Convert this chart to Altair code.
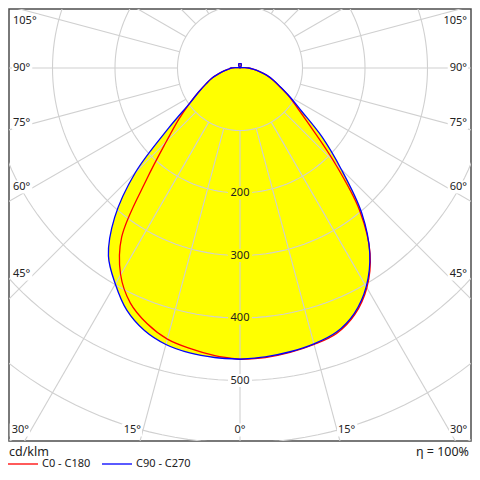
import math
import altair as alt
import pandas as pd

# ---------------- data (cd/klm) ----------------
GAMMA = [0, 5, 10, 15, 20, 25, 30, 35, 40, 45, 50, 55, 60, 65, 70, 75, 80, 85, 90]
C180 = [466, 462, 456, 449, 435, 415, 382, 330, 232, 167, 128, 98, 76, 60, 48, 35, 25, 18, 14]
C0 = [466, 465, 462, 458, 452, 435, 406, 363, 298, 214, 150, 113, 90, 70, 56, 44, 31, 21, 14]
C270 = [466, 465, 463, 458, 447, 428, 399, 367, 312, 237, 148, 98, 76, 60, 48, 35, 25, 18, 14]
C90 = [466, 464, 461, 457, 450, 433, 404, 362, 303, 229, 171, 120, 92, 71, 57, 44, 31, 21, 14]
GAMMA_UP = [95, 100, 105, 110, 115, 120, 125, 130, 135, 140, 145, 150, 155, 160, 165, 170, 175, 180]
UP = [8, 4, 2, 1, 1, 0.5, 0.5, 0.5, 0.5, 1, 2, 3, 5, 6, 7, 7, 7, 7]
SERIES = ["C0 - C180", "C90 - C270"]
RINGS = [100, 200, 300, 400, 500, 600, 700]
RING_LABELS = [200, 300, 400, 500]
ANGLE_LABELS = [0, 15, 30, 45, 60, 75, 90, 105]
ETA = "η = 100%"
UNIT = "cd/klm"

# ---------------- geometry of the frame ----------------
PX = 0.625                 # pixels per cd/klm
W, H = 462, 432            # plot area in px
HALF_W = 231 / PX
TOP = 59 / PX
BOT = -373 / PX
XS = alt.Scale(domain=[-HALF_W, HALF_W], nice=False, zero=False)
YS = alt.Scale(domain=[BOT, TOP], nice=False, zero=False)
GRID = "#d0d0d0"
FONT = "Noto Sans"


def polar(v, g):
    r = math.radians(g)
    return v * math.sin(r), -v * math.cos(r)


# curves
rows = []
for name, left, right in [(SERIES[0], C180, C0), (SERIES[1], C270, C90)]:
    seq = 0
    for g, v in zip(GAMMA + GAMMA_UP, left + UP):
        x, y = polar(v, g)
        rows.append({"series": name, "x": -x, "y": y, "seq": seq})
        seq += 1
    for g, v in list(zip(GAMMA + GAMMA_UP, right + UP))[::-1]:
        x, y = polar(v, g)
        rows.append({"series": name, "x": x, "y": y, "seq": seq})
        seq += 1
curves = pd.DataFrame(rows)

# rings
ring_rows = []
for r in RINGS:
    for i, a in enumerate(range(0, 361, 2)):
        x, y = polar(r, a)
        ring_rows.append({"ring": r, "x": x, "y": y, "i": i})
rings = pd.DataFrame(ring_rows)

# spokes
spoke_rows = []
for a in range(0, 360, 15):
    x1, y1 = polar(RINGS[0], a)
    x2, y2 = polar(1200, a)
    spoke_rows.append({"a": a, "x": x1, "y": y1, "x2": x2, "y2": y2})
spokes = pd.DataFrame(spoke_rows)

# ring labels
rl = pd.DataFrame({"v": RING_LABELS})
rl["x"] = 0.0
rl["y"] = -rl["v"]
rl["t"] = rl["v"].astype(str)
rl["x1"] = -12 / PX
rl["x2"] = 12 / PX
rl["y1"] = rl["y"] - 6.5 / PX
rl["y2"] = rl["y"] + 6.5 / PX

# angle labels
al_rows = []
for a in ANGLE_LABELS:
    rad = math.radians(a)
    for s in ([0] if a == 0 else [-1, 1]):
        text = f"{a}°"
        wpx = 6.3 * len(str(a)) + 4.7
        if a < 90 and (-BOT) * math.tan(rad) <= HALF_W:
            y = BOT + 11 / PX
            x = s * (-y) * math.tan(rad)
            if s < 0:
                x -= 2 / PX
                align = "right"
            elif s > 0:
                x += 1 / PX
                align = "left"
            else:
                align = "center"
        else:
            x = s * (HALF_W - 4 / PX)
            d = HALF_W - 25 / PX
            y = -d * math.cos(rad) / math.sin(rad)
            y = min(y, TOP - 12 / PX)
            align = "left" if s < 0 else "right"
        if align == "left":
            x1, x2 = x - 1 / PX, x + (wpx + 2) / PX
        elif align == "right":
            x1, x2 = x - (wpx + 2) / PX, x + 1 / PX
        else:
            x1, x2 = x - (wpx / 2 + 2) / PX, x + (wpx / 2 + 2) / PX
        al_rows.append({"t": text, "x": x, "y": y, "align": align,
                        "x1": x1, "x2": x2, "y1": y - 6.5 / PX, "y2": y + 6.5 / PX})
al = pd.DataFrame(al_rows)

enc_xy = dict(x=alt.X("x:Q", scale=XS, axis=None), y=alt.Y("y:Q", scale=YS, axis=None))

fills = alt.Chart(curves).mark_line(
    fill="#ffff00", strokeOpacity=0, interpolate="catmull-rom"
).encode(order="seq:Q", detail="series:N", **enc_xy)

ring_layer = alt.Chart(rings).mark_line(color=GRID, strokeWidth=1.1, clip=True).encode(
    order="i:Q", detail="ring:N", **enc_xy)

spoke_layer = alt.Chart(spokes).mark_rule(color=GRID, strokeWidth=1.1, clip=True).encode(
    x2="x2:Q", y2="y2:Q", **enc_xy)

curve_layers = []
for name, col in zip(SERIES, ["#ff0000", "#0000ff"]):
    curve_layers.append(
        alt.Chart(curves).transform_filter(alt.datum.series == name)
        .mark_line(color=col, strokeWidth=1.3, interpolate="catmull-rom", clip=True)
        .encode(order="seq:Q", **enc_xy)
    )

ring_bg = alt.Chart(rl).mark_rect().encode(
    x=alt.X("x1:Q", scale=XS, axis=None), x2="x2:Q",
    y=alt.Y("y1:Q", scale=YS, axis=None), y2="y2:Q",
    color=alt.condition(alt.datum.v < 500, alt.value("#ffff00"), alt.value("#ffffff")),
)
ring_txt = alt.Chart(rl).mark_text(font=FONT, fontSize=11, color="#222222",
                                   baseline="middle", align="center").encode(
    text="t:N", **enc_xy)

ang_bg = alt.Chart(al).mark_rect(color="#ffffff").encode(
    x=alt.X("x1:Q", scale=XS, axis=None), x2="x2:Q",
    y=alt.Y("y1:Q", scale=YS, axis=None), y2="y2:Q",
)
ang_txt = []
for align in ["left", "right", "center"]:
    ang_txt.append(
        alt.Chart(al).transform_filter(alt.datum.align == align)
        .mark_text(font=FONT, fontSize=11, color="#222222", baseline="middle", align=align)
        .encode(text="t:N", **enc_xy)
    )

# legend / footer (pixel positions below the frame)
one = pd.DataFrame({"k": [0]})
footer = [
    alt.Chart(one).mark_text(text=UNIT, font=FONT, fontSize=12.5, color="#222222",
                             align="left", baseline="middle")
    .encode(x=alt.value(0), y=alt.value(443)),
    alt.Chart(one).mark_text(text=ETA, font=FONT, fontSize=12.5, color="#222222",
                             align="right", baseline="middle")
    .encode(x=alt.value(460), y=alt.value(443)),
]
for i, (name, col) in enumerate(zip(SERIES, ["#ff0000", "#0000ff"])):
    x0 = i * 94
    footer.append(alt.Chart(one).mark_rule(color=col, strokeWidth=1.3).encode(
        x=alt.value(x0 - 1), x2=alt.value(x0 + 29), y=alt.value(455)))
    footer.append(alt.Chart(one).mark_text(text=name, font=FONT, fontSize=11, color="#222222",
                                           align="left", baseline="middle")
                  .encode(x=alt.value(x0 + 33), y=alt.value(455)))

chart = alt.layer(
    fills, ring_layer, spoke_layer, *curve_layers, ring_bg, ring_txt, ang_bg, *ang_txt, *footer
).properties(
    width=W, height=H,
    padding={"left": 1, "top": 1, "right": 1, "bottom": 30},
    autosize=alt.AutoSizeParams(type="none"),
    background="#ffffff",
).configure_view(stroke="#4d4d4d", strokeWidth=1.5)

chart.save("out.html", embed_options={"renderer": "svg", "actions": False})
